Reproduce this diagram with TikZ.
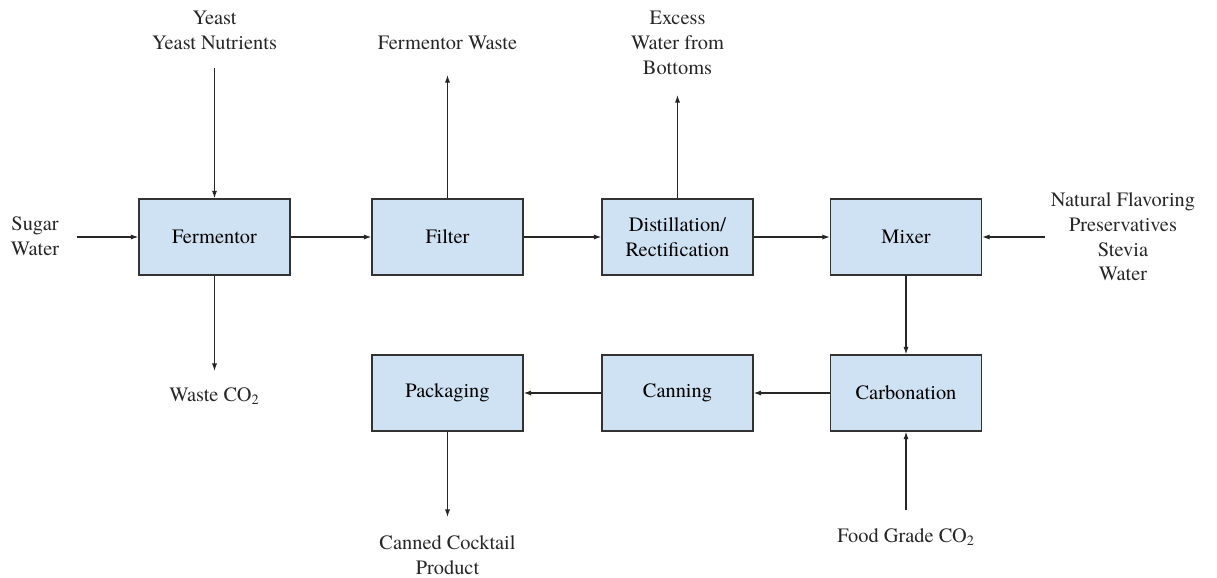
\documentclass[tikz,border=0pt]{standalone}
\usepackage{fontspec}
\IfFontExistsTF{TeX Gyre Termes}{\setmainfont{TeX Gyre Termes}}{\setmainfont{Latin Modern Roman}}
\usepackage{xcolor}
\usepackage{tikz}
\usetikzlibrary{arrows.meta}

\definecolor{boxblue}{HTML}{CFE2F3}
\definecolor{boxline}{HTML}{333333}

\begin{document}
\begin{tikzpicture}[
    x=0.025cm, y=-0.025cm,
    font=\rmfamily\fontsize{14.5}{17.6}\selectfont,
    unit/.style={draw=boxline, line width=0.9pt, fill=boxblue, minimum width=151*0.025cm,
                 minimum height=76*0.025cm, align=center, inner sep=0pt},
    lbl/.style={align=center, inner sep=0pt, text=black!85},
    arr/.style={-{Latex[length=1.9mm, width=1.3mm]}, line width=0.85pt, color=black!85}
]
\useasboundingbox (0,0) rectangle (1217,578);

% Upper row of process units
\node[unit] (ferm)  at (214.5, 237) {Fermentor};
\node[unit] (filt)  at (447.5, 237) {Filter};
\node[unit] (dist)  at (677.5, 237) {Distillation/\\Rectification};
\node[unit] (mix)   at (906, 237)   {Mixer};

% Lower row of process units
\node[unit] (pack)  at (447.5, 393) {Packaging};
\node[unit] (can)   at (677.5, 393) {Canning};
\node[unit] (carb)  at (906, 393)   {Carbonation};

% Stream labels
\node[lbl] (sugar)  at (35, 236)    {Sugar\\Water};
\node[lbl] (yeast)  at (214.5, 30)  {Yeast\\Yeast Nutrients};
\node[lbl] (fwaste) at (447.5, 43)  {Fermentor Waste};
\node[lbl] (excess) at (677.5, 43)  {Excess\\Water from\\Bottoms};
\node[lbl] (flav)   at (1123, 237)  {Natural Flavoring\\Preservatives\\Stevia\\Water};
\node[lbl] (wco)    at (214.5, 396) {Waste CO\textsubscript{2}};
\node[lbl] (fco)    at (906, 537)   {Food Grade CO\textsubscript{2}};
\node[lbl] (prod)   at (447.5, 555) {Canned Cocktail\\Product};

% Free ends of the stream arrows
\coordinate (sugarend)  at (77, 237);
\coordinate (yeastend)  at (214.5, 68);
\coordinate (fwasteend) at (447.5, 75);
\coordinate (excessend) at (677.5, 95);
\coordinate (flavend)   at (1045, 237);
\coordinate (wcoend)    at (214.5, 371);
\coordinate (fcoend)    at (906, 510);
\coordinate (prodend)   at (447.5, 517);

% Feeds into the fermentor
\draw[arr] (sugarend) -- (ferm.west);
\draw[arr] (yeastend) -- (ferm.north);
\draw[arr] (ferm.south) -- (wcoend);

% Main line, upper row
\draw[arr] (ferm.east) -- (filt.west);
\draw[arr] (filt.north) -- (fwasteend);
\draw[arr] (filt.east) -- (dist.west);
\draw[arr] (dist.north) -- (excessend);
\draw[arr] (dist.east) -- (mix.west);
\draw[arr] (flavend) -- (mix.east);

% Main line, lower row
\draw[arr] (mix.south) -- (carb.north);
\draw[arr] (fcoend) -- (carb.south);
\draw[arr] (carb.west) -- (can.east);
\draw[arr] (can.west) -- (pack.east);
\draw[arr] (pack.south) -- (prodend);

\end{tikzpicture}
\end{document}
